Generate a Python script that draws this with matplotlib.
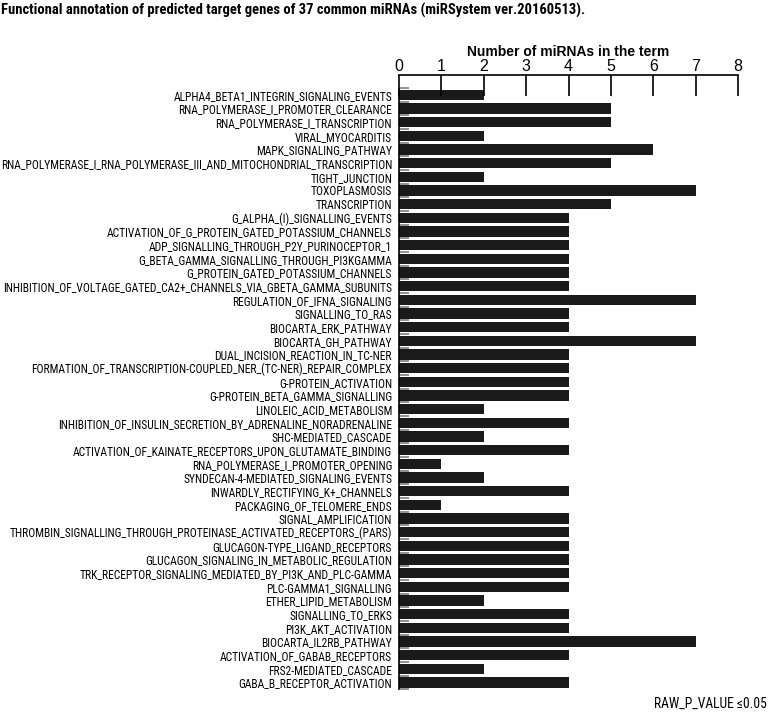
import matplotlib
matplotlib.use("Agg")
import matplotlib.pyplot as plt

categories = [
    "ALPHA4_BETA1_INTEGRIN_SIGNALING_EVENTS",
    "RNA_POLYMERASE_I_PROMOTER_CLEARANCE",
    "RNA_POLYMERASE_I_TRANSCRIPTION",
    "VIRAL_MYOCARDITIS",
    "MAPK_SIGNALING_PATHWAY",
    "RNA_POLYMERASE_I_RNA_POLYMERASE_III_AND_MITOCHONDRIAL_TRANSCRIPTION",
    "TIGHT_JUNCTION",
    "TOXOPLASMOSIS",
    "TRANSCRIPTION",
    "G_ALPHA_(I)_SIGNALLING_EVENTS",
    "ACTIVATION_OF_G_PROTEIN_GATED_POTASSIUM_CHANNELS",
    "ADP_SIGNALLING_THROUGH_P2Y_PURINOCEPTOR_1",
    "G_BETA_GAMMA_SIGNALLING_THROUGH_PI3KGAMMA",
    "G_PROTEIN_GATED_POTASSIUM_CHANNELS",
    "INHIBITION_OF_VOLTAGE_GATED_CA2+_CHANNELS_VIA_GBETA_GAMMA_SUBUNITS",
    "REGULATION_OF_IFNA_SIGNALING",
    "SIGNALLING_TO_RAS",
    "BIOCARTA_ERK_PATHWAY",
    "BIOCARTA_GH_PATHWAY",
    "DUAL_INCISION_REACTION_IN_TC-NER",
    "FORMATION_OF_TRANSCRIPTION-COUPLED_NER_(TC-NER)_REPAIR_COMPLEX",
    "G-PROTEIN_ACTIVATION",
    "G-PROTEIN_BETA_GAMMA_SIGNALLING",
    "LINOLEIC_ACID_METABOLISM",
    "INHIBITION_OF_INSULIN_SECRETION_BY_ADRENALINE_NORADRENALINE",
    "SHC-MEDIATED_CASCADE",
    "ACTIVATION_OF_KAINATE_RECEPTORS_UPON_GLUTAMATE_BINDING",
    "RNA_POLYMERASE_I_PROMOTER_OPENING",
    "SYNDECAN-4-MEDIATED_SIGNALING_EVENTS",
    "INWARDLY_RECTIFYING_K+_CHANNELS",
    "PACKAGING_OF_TELOMERE_ENDS",
    "SIGNAL_AMPLIFICATION",
    "THROMBIN_SIGNALLING_THROUGH_PROTEINASE_ACTIVATED_RECEPTORS_(PARS)",
    "GLUCAGON-TYPE_LIGAND_RECEPTORS",
    "GLUCAGON_SIGNALING_IN_METABOLIC_REGULATION",
    "TRK_RECEPTOR_SIGNALING_MEDIATED_BY_PI3K_AND_PLC-GAMMA",
    "PLC-GAMMA1_SIGNALLING",
    "ETHER_LIPID_METABOLISM",
    "SIGNALLING_TO_ERKS",
    "PI3K_AKT_ACTIVATION",
    "BIOCARTA_IL2RB_PATHWAY",
    "ACTIVATION_OF_GABAB_RECEPTORS",
    "FRS2-MEDIATED_CASCADE",
    "GABA_B_RECEPTOR_ACTIVATION",
]
counts = [2, 5, 5, 2, 6, 5, 2, 7, 5, 4, 4, 4, 4, 4, 4, 7, 4, 4, 7, 4, 4, 4, 4, 2,
          4, 2, 4, 1, 2, 4, 1, 4, 4, 4, 4, 4, 4, 2, 4, 4, 7, 4, 2, 4]
x_ticks = [0, 1, 2, 3, 4, 5, 6, 7, 8]

title = "Functional annotation of predicted target genes of 37 common miRNAs (miRSystem ver.20160513)."
xlabel = "Number of miRNAs in the term"
note = "RAW_P_VALUE \u22640.05"

narrow = ["Roboto Condensed", "DejaVu Sans"]
regular = ["Liberation Sans", "DejaVu Sans"]
plt.rcParams["font.family"] = narrow

fig = plt.figure(figsize=(7.77, 7.15), dpi=100)
ax = fig.add_axes([399 / 777, 1 - 690 / 715, 339 / 777, 615 / 715])

n = len(categories)
ypos = list(range(n))
ax.barh(ypos, counts, height=0.76, color="#1a1a1a", edgecolor="none")

ax.set_xlim(0, 8)
ax.set_ylim(n - 0.45, -1.45)
ax.xaxis.set_ticks_position("top")
ax.xaxis.set_label_position("top")
ax.set_xticks(x_ticks)
ax.set_xticklabels([str(t) for t in x_ticks], fontsize=11.5, family=regular)
ax.tick_params(axis="x", direction="in", length=15, width=1.2, pad=1, colors="black")
ax.set_xlabel(xlabel, fontsize=10, fontweight="bold", labelpad=2, family=regular)

ax.set_yticks(ypos)
ax.set_yticklabels(categories, fontsize=8.3)
ax.tick_params(axis="y", which="major", length=0, pad=5)
ax.set_yticks([i - 0.5 for i in range(n + 1)], minor=True)
ax.tick_params(axis="y", which="minor", direction="in", length=7, width=1.3, color="#888888")

for s in ["right", "bottom"]:
    ax.spines[s].set_visible(False)
ax.spines["top"].set_linewidth(1.2)
ax.spines["left"].set_linewidth(1.2)
ax.spines["left"].set_bounds(-0.5, n - 0.5)

fig.text(0.001, 0.996, title, fontsize=10.5, fontweight="bold", ha="left", va="top")
fig.text(0.987, 0.015, note, fontsize=9.8, ha="right", va="center")

fig.savefig("out.png", dpi=100)
